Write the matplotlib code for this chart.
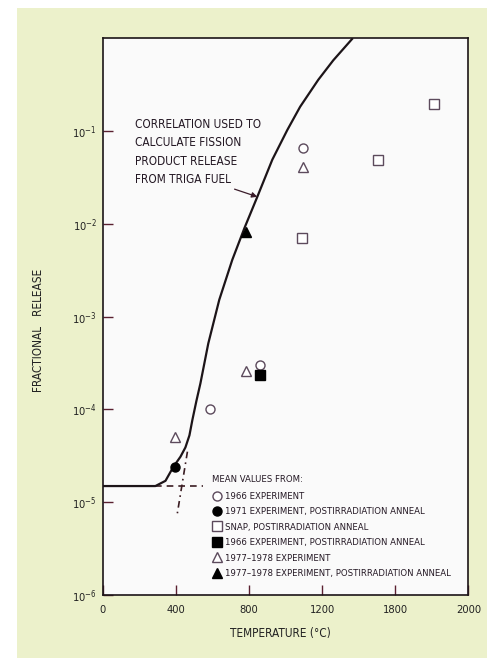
import numpy as np
import matplotlib.pyplot as plt
from matplotlib.patches import Rectangle

plt.rcParams['font.family'] = ['DejaVu Sans']
plt.rcParams['font.stretch'] = 'condensed'

# correlation curve (temperature C, log10 of fractional release)
curve_T = [0, 289, 344, 387, 426, 453, 475, 491, 513, 535, 578, 638, 709,
           775, 846, 928, 1010, 1080, 1179, 1261, 1364]
curve_log = [-4.826, -4.826, -4.77, -4.62, -4.51, -4.41, -4.28, -4.115, -3.91,
             -3.72, -3.29, -2.82, -2.39, -2.05, -1.71, -1.31, -0.99, -0.74,
             -0.45, -0.24, -0.01]
curve_y = [10 ** v for v in curve_log]

# construction lines at the knee
hline_T = [289, 551]
hline_y = [1.5e-5, 1.5e-5]
vline_T = [464, 409]
vline_y = [3.5e-5, 7.6e-6]

# mean values
exp66_T = [589, 862, 1097]
exp66_y = [1.0e-4, 3.0e-4, 6.5e-2]
exp71_T = [398]
exp71_y = [2.4e-5]
snap_T = [1091, 1506, 1812]
snap_y = [7.0e-3, 4.85e-2, 1.95e-1]
exp66a_T = [862]
exp66a_y = [2.35e-4]
exp77_T = [398, 786, 1097]
exp77_y = [5.0e-5, 2.6e-4, 4.1e-2]
exp77a_T = [786]
exp77a_y = [8.1e-3]

xticks = [0, 400, 800, 1200, 1600, 2000]
xticklabels = ['0', '400', '800', '1200', '1800', '2000']
yticks = [1e-6, 1e-5, 1e-4, 1e-3, 1e-2, 1e-1]
yticklabels = [r'$\mathregular{10^{-6}}$', r'$\mathregular{10^{-5}}$', r'$\mathregular{10^{-4}}$',
               r'$\mathregular{10^{-3}}$', r'$\mathregular{10^{-2}}$', r'$\mathregular{10^{-1}}$']

ink = '#1c1418'
open_ec = '#5c4a5c'
txt = '#241824'

fig = plt.figure(figsize=(4.87, 6.58), dpi=100)
bg = Rectangle((17 / 487, 0), 1, 1 - 8 / 658, transform=fig.transFigure,
               facecolor='#ecf1cb', edgecolor='none', zorder=-5)
fig.add_artist(bg)
ax = fig.add_axes([0.2105, 0.0957, 0.7515, 0.8465])
ax.set_facecolor('#fafafa')

ax.plot(curve_T, curve_y, color=ink, lw=1.6, zorder=3)
ax.plot(hline_T, hline_y, color='#3a1c22', lw=1.2, ls=(0, (4, 3)), zorder=2)
ax.plot(vline_T, vline_y, color='#3a1c22', lw=1.2, ls=(0, (4, 2.5, 1, 2.5)), zorder=2)

ms = 6.5
h1, = ax.plot(exp66_T, exp66_y, 'o', ms=ms, mfc='white', mec=open_ec, mew=1.0, ls='none',
              label='1966 EXPERIMENT', zorder=4)
h2, = ax.plot(exp71_T, exp71_y, 'o', ms=ms, mfc='black', mec='black', ls='none',
              label='1971 EXPERIMENT, POSTIRRADIATION ANNEAL', zorder=4)
h3, = ax.plot(snap_T, snap_y, 's', ms=ms, mfc='white', mec=open_ec, mew=1.0, ls='none',
              label='SNAP, POSTIRRADIATION ANNEAL', zorder=4)
h4, = ax.plot(exp66a_T, exp66a_y, 's', ms=ms, mfc='black', mec='black', ls='none',
              label='1966 EXPERIMENT, POSTIRRADIATION ANNEAL', zorder=4)
h5, = ax.plot(exp77_T, exp77_y, '^', ms=ms, mfc='white', mec=open_ec, mew=1.0, ls='none',
              label='1977\u20131978 EXPERIMENT', zorder=4)
h6, = ax.plot(exp77a_T, exp77a_y, '^', ms=ms, mfc='black', mec='black', ls='none',
              label='1977\u20131978 EXPERIMENT, POSTIRRADIATION ANNEAL', zorder=4)

ax.set_yscale('log')
ax.set_xlim(0, 2000)
ax.set_ylim(1e-6, 1e0)
ax.set_xticks(xticks)
ax.set_xticklabels(xticklabels)
ax.set_yticks(yticks)
ax.set_yticklabels(yticklabels)
ax.minorticks_off()
ax.tick_params(axis='both', direction='in', length=7, width=1, color='#5a2030',
               labelsize=8, labelcolor='#222222')
ax.tick_params(axis='x', pad=7)
ax.tick_params(axis='y', pad=4)
for s in ax.spines.values():
    s.set_color(ink)
    s.set_linewidth(1.2)

ax.set_xlabel('TEMPERATURE (\u00b0C)', fontsize=8.5, color='#222222')
ax.xaxis.set_label_coords(0.485, -0.058)
ax.set_ylabel('FRACTIONAL   RELEASE', fontsize=8.5, color='#222222')
ax.yaxis.set_label_coords(-0.158, 0.476)

ax.annotate('CORRELATION USED TO\nCALCULATE FISSION\nPRODUCT RELEASE\nFROM TRIGA FUEL',
            xy=(846, 10 ** -1.71), xytext=(180, 10 ** -0.86),
            fontsize=8.5, color=txt, va='top', ha='left', linespacing=1.55,
            arrowprops=dict(arrowstyle='-|>', color='#3a1c2a', lw=0.9,
                            shrinkA=0, shrinkB=0, mutation_scale=8,
                            relpos=(0.72, 0.0)))

leg = ax.legend(handles=[h1, h2, h3, h4, h5, h6], title='MEAN VALUES FROM:',
                loc='upper left', bbox_to_anchor=(0.289, 0.223), frameon=False,
                fontsize=6.8, title_fontsize=6.8, handlelength=1.0, handletextpad=0.4,
                labelspacing=0.68, borderaxespad=0, markerscale=1.0)
leg._legend_box.align = 'left'
leg._legend_box.sep = 6
for t in leg.get_texts():
    t.set_color(txt)
leg.get_title().set_color(txt)

fig.savefig('out.png', dpi=100)
